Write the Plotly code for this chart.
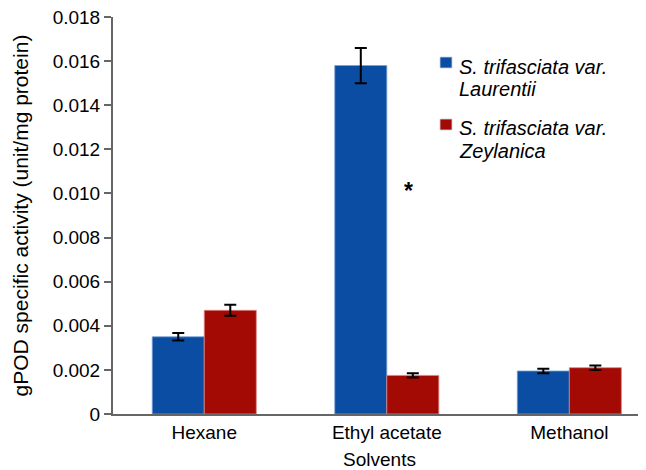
import plotly.graph_objects as go

categories = ["Hexane", "Ethyl acetate", "Methanol"]
laurentii = [0.0035, 0.0158, 0.00195]
laurentii_err = [0.00017, 0.0008, 0.0001]
zeylanica = [0.0047, 0.00175, 0.0021]
zeylanica_err = [0.00025, 0.0001, 0.0001]
y_ticks = [0, 0.002, 0.004, 0.006, 0.008, 0.010, 0.012, 0.014, 0.016, 0.018]
y_tick_labels = ["0", "0.002", "0.004", "0.006", "0.008", "0.010", "0.012", "0.014", "0.016", "0.018"]
legend_names = ["S. trifasciata var.", "Laurentii", "S. trifasciata var.", "Zeylanica"]

FONT = "Liberation Sans, Arial, Helvetica, sans-serif"
BLUE = "#0A4DA2"
RED = "#A30A04"

# page offset of the figure (default body margin)
OFF = 8
FIG_W, FIG_H = 646 - OFF, 470 - OFF
# plot area in page pixels
L, R, T, B = 113, 646, 17, 414
W, H = R - L, B - T
def px(x):
    return (x - L) / W
def py(y):
    return (B - y) / H

fig = go.Figure()
fig.add_trace(go.Bar(
    x=categories, y=laurentii, name=legend_names[0] + " " + legend_names[1],
    marker=dict(color=BLUE, line=dict(color="rgba(120,160,210,0.8)", width=1)),
    error_y=dict(type="data", array=laurentii_err, color="black", thickness=2, width=6),
    showlegend=False,
))
fig.add_trace(go.Bar(
    x=categories, y=zeylanica, name=legend_names[2] + " " + legend_names[3],
    marker=dict(color=RED, line=dict(color="rgba(220,130,130,0.8)", width=1)),
    error_y=dict(type="data", array=zeylanica_err, color="black", thickness=2, width=6),
    showlegend=False,
))

fig.add_annotation(x=1.12, y=0.0101, xref="x", yref="y", text="<b>*</b>",
                   showarrow=False, font=dict(size=23, color="black", family=FONT))

# manual legend
for color, ytop in [(BLUE, 57), (RED, 119)]:
    fig.add_shape(type="rect", xref="paper", yref="paper",
                  x0=px(440), x1=px(452), y0=py(ytop), y1=py(ytop + 11),
                  fillcolor=color, line=dict(color="rgba(200,210,230,0.8)", width=1))
for text, ymid in zip(legend_names, [67, 89, 128, 151]):
    fig.add_annotation(x=px(457), y=py(ymid), xref="paper", yref="paper",
                       xanchor="left", yanchor="middle", text="<i>" + text + "</i>",
                       showarrow=False, font=dict(size=20, color="black", family=FONT))

fig.update_layout(
    width=FIG_W, height=FIG_H,
    margin=dict(l=L - OFF, r=646 - R, t=T - OFF, b=470 - B),
    paper_bgcolor="white", plot_bgcolor="white",
    barmode="group", bargap=0.43, bargroupgap=0,
    font=dict(family=FONT, size=19, color="black"),
    showlegend=False,
    xaxis=dict(range=[-0.5, 2.42], showline=True, linecolor="#666666", linewidth=2,
               ticks="", showgrid=False, zeroline=False, automargin=False,
               title=dict(text="Solvents", font=dict(size=19), standoff=12),
               tickfont=dict(size=19)),
    yaxis=dict(range=[0, 0.018], tickvals=y_ticks, ticktext=y_tick_labels,
               showline=True, linecolor="#666666", linewidth=2,
               ticks="outside", ticklen=7, tickcolor="#666666", tickwidth=2,
               showgrid=False, zeroline=False, automargin=False,
               ticklabeloverflow="allow",
               title=dict(text="gPOD specific activity (unit/mg protein)", font=dict(size=21), standoff=18),
               tickfont=dict(size=19)),
)

fig.write_html("out.html")
